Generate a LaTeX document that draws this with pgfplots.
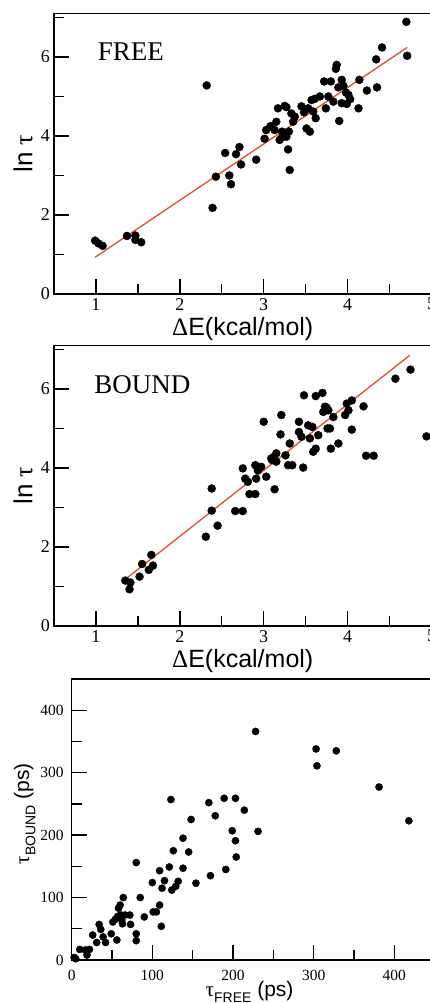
\documentclass[border=0pt]{standalone}
\usepackage{pgfplots}
\pgfplotsset{compat=1.18}
\usepackage{fontspec}
\setmainfont{Liberation Serif}
\newfontfamily\arial{Liberation Sans}
\definecolor{fitred}{RGB}{226,78,48}
\pgfplotsset{
  paneltop/.style={
    scale only axis, clip=false,
    axis line style={line width=1.5pt, black},
    tick align=inside, tick pos=left,
    major tick length=15pt, minor tick length=10pt,
    tick style={line width=1.4pt, black},
    /pgf/number format/assume math mode=true,
    tick label style={font=\fontsize{18}{18}\selectfont, inner sep=0pt},
    xticklabel style={yshift=-4pt},
    yticklabel style={xshift=-4pt},
  },
  dots/.style={only marks, mark=*, mark size=4pt, black, mark options={fill=black, draw=black}},
}
\begin{document}
\begin{tikzpicture}[x=1pt,y=1pt]
\path[use as bounding box, clip] (0,0) rectangle (430,-1003);
% ---------------- FREE ----------------
\begin{axis}[paneltop,
  at={(54pt,-294pt)}, anchor=south west,
  width=377.5pt, height=280.5pt,
  xmin=0.5, xmax=5, ymin=0, ymax=7.1,
  xtick={1,2,3,4,5}, minor xtick={1.5,2.5,3.5,4.5},
  ytick={0,2,4,6}, minor ytick={1,3,5,7},
]
\addplot[dots] coordinates {
(0.99,1.35) (1.03,1.28) (1.08,1.22) (1.37,1.47) (1.47,1.48) (1.47,1.37) (1.54,1.31)
(2.32,5.28) (2.39,2.18) (2.43,2.97) (2.54,3.57) (2.59,3.00) (2.61,2.78) (2.67,3.54)
(2.71,3.72) (2.73,3.28) (2.91,3.40) (3.01,3.93) (3.03,4.15) (3.08,4.25) (3.13,4.15)
(3.15,4.36) (3.17,4.70) (3.19,3.90) (3.22,4.11) (3.25,4.76) (3.27,3.98) (3.29,3.66)
(3.30,4.11) (3.31,3.14) (3.33,4.57) (3.35,4.36) (3.37,4.49) (3.27,4.73) (3.22,3.97)
(3.51,4.19) (3.53,4.70) (3.55,4.11) (3.57,4.91) (3.59,4.62) (3.62,4.45) (3.61,4.94)
(3.67,5.00) (3.72,5.38) (3.74,4.70) (3.77,5.00) (3.80,5.38) (3.83,4.87) (3.87,5.80)
(3.86,5.70) (3.89,5.23) (3.90,4.38) (3.93,5.42) (3.95,5.27) (3.93,4.83) (4.01,5.04)
(3.99,4.81) (4.03,4.93) (4.14,5.42) (4.13,4.70) (4.23,5.15) (4.34,5.94) (4.35,5.23)
(4.41,6.24) (4.70,6.89) (4.71,6.03) (3.45,4.75) (3.48,4.60) (3.98,5.10)
};
\addplot[no marks, fitred, line width=1.3pt] coordinates {(0.99,0.93) (4.71,6.24)};
\node[anchor=base west, inner sep=0pt, font=\fontsize{27}{27}\selectfont] at (axis cs:1.02,5.92) {FREE};
\node[anchor=base, inner sep=0pt, font=\fontsize{25}{25}\selectfont] at ([yshift=-41pt]rel axis cs:0.5,0) {{\rmfamily Δ}{\arial E(kcal/mol)}};
\node[rotate=90, inner sep=0pt, font=\fontsize{26}{26}\selectfont] at ([xshift=-31pt]rel axis cs:0,0.5) {{\arial ln }{\rmfamily τ}};
\end{axis}
% ---------------- BOUND ----------------
\begin{axis}[paneltop,
  at={(54pt,-626pt)}, anchor=south west,
  width=377.5pt, height=280.5pt,
  xmin=0.5, xmax=5, ymin=0, ymax=7.1,
  xtick={1,2,3,4,5}, minor xtick={1.5,2.5,3.5,4.5},
  ytick={0,2,4,6}, minor ytick={1,3,5,7},
]
\addplot[dots] coordinates {
(1.35,1.15) (1.41,1.10) (1.40,0.93) (1.52,1.25) (1.55,1.57) (1.63,1.42) (1.66,1.80)
(1.68,1.53) (2.31,2.26) (2.38,3.48) (2.38,2.92) (2.45,2.54) (2.66,2.91) (2.75,2.91)
(2.75,3.99) (2.78,3.73) (2.81,3.65) (2.83,3.34) (2.90,3.34) (2.90,4.07) (2.91,3.73)
(2.93,3.94) (2.97,4.03) (3.00,5.17) (3.03,3.78) (3.09,4.24) (3.12,4.28) (3.13,3.46)
(3.15,4.37) (3.15,4.16) (3.21,5.34) (3.20,4.85) (3.26,4.32) (3.29,4.07) (3.31,4.62)
(3.34,4.07) (3.42,5.17) (3.42,4.91) (3.45,4.79) (3.47,4.01) (3.48,5.84) (3.53,5.08)
(3.55,4.75) (3.58,5.04) (3.59,4.41) (3.62,4.49) (3.62,5.82) (3.65,4.83) (3.70,5.90)
(3.71,5.42) (3.75,5.53) (3.77,5.46) (3.79,5.00) (3.80,4.49) (3.83,5.29) (3.89,4.62)
(3.97,5.34) (3.99,5.63) (4.01,5.46) (4.05,5.71) (4.05,4.97) (4.19,5.56) (4.22,4.31)
(4.31,4.31) (4.57,6.26) (4.75,6.49) (4.94,4.80) (3.73,5.55) (3.76,5.00) (3.10,4.20)
};
\addplot[no marks, fitred, line width=1.3pt] coordinates {(1.36,1.20) (4.74,6.85)};
\node[anchor=base west, inner sep=0pt, font=\fontsize{27}{27}\selectfont] at (axis cs:0.98,5.89) {BOUND};
\node[anchor=base, inner sep=0pt, font=\fontsize{25}{25}\selectfont] at ([yshift=-41pt]rel axis cs:0.5,0) {{\rmfamily Δ}{\arial E(kcal/mol)}};
\node[rotate=90, inner sep=0pt, font=\fontsize{26}{26}\selectfont] at ([xshift=-31pt]rel axis cs:0,0.5) {{\arial ln }{\rmfamily τ}};
\end{axis}
% ---------------- tau vs tau ----------------
\begin{axis}[paneltop,
  at={(71.7pt,-960pt)}, anchor=south west,
  width=363pt, height=281pt,
  xmin=0, xmax=450, ymin=0, ymax=450,
  xtick={0,100,200,300,400}, minor xtick={50,150,250,350},
  ytick={0,100,200,300,400}, minor ytick={50,150,250,350},
  tick label style={font=\fontsize{15.5}{15.5}\selectfont, inner sep=0pt},
  xticklabel style={yshift=-6pt},
  yticklabel style={xshift=-4pt},
]
\addplot[dots, mark size=3.6pt] coordinates {
(3,4) (5,2) (10,17) (17,16) (19,8) (22,17) (26,40) (31,28) (34,57) (36,49) (39,37)
(42,28) (49,42) (51,61) (54,65) (56,32) (58,83) (60,88) (61,72) (63,58) (64,100)
(66,72) (72,72) (73,57) (80,42) (80,31) (80,156) (85,100) (90,69) (100,124) (101,77)
(105,77) (109,143) (109,88) (112,115) (111,54) (115,127) (121,149) (123,257) (124,112)
(126,175) (129,118) (132,126) (138,195) (138,147) (145,173) (148,225) (154,123)
(170,252) (172,135) (178,231) (189,259) (191,145) (199,207) (203,259) (203,191)
(204,165) (214,240) (228,366) (231,206) (303,338) (304,311) (328,335) (381,277) (418,223)
(57,70) (62,64)
};
\node[anchor=base, inner sep=0pt, font=\fontsize{21}{21}\selectfont] at ([yshift=-36pt]rel axis cs:0.49,0) {{\rmfamily τ}\raisebox{-0.3em}{\arial\fontsize{14}{14}\selectfont FREE}{\arial\ (ps)}};
\node[rotate=90, inner sep=0pt, font=\fontsize{21}{21}\selectfont] at ([xshift=-47pt]rel axis cs:0,0.52) {{\rmfamily τ}\raisebox{-0.3em}{\arial\fontsize{14}{14}\selectfont BOUND}{\arial\ (ps)}};
\end{axis}
\end{tikzpicture}
\end{document}
